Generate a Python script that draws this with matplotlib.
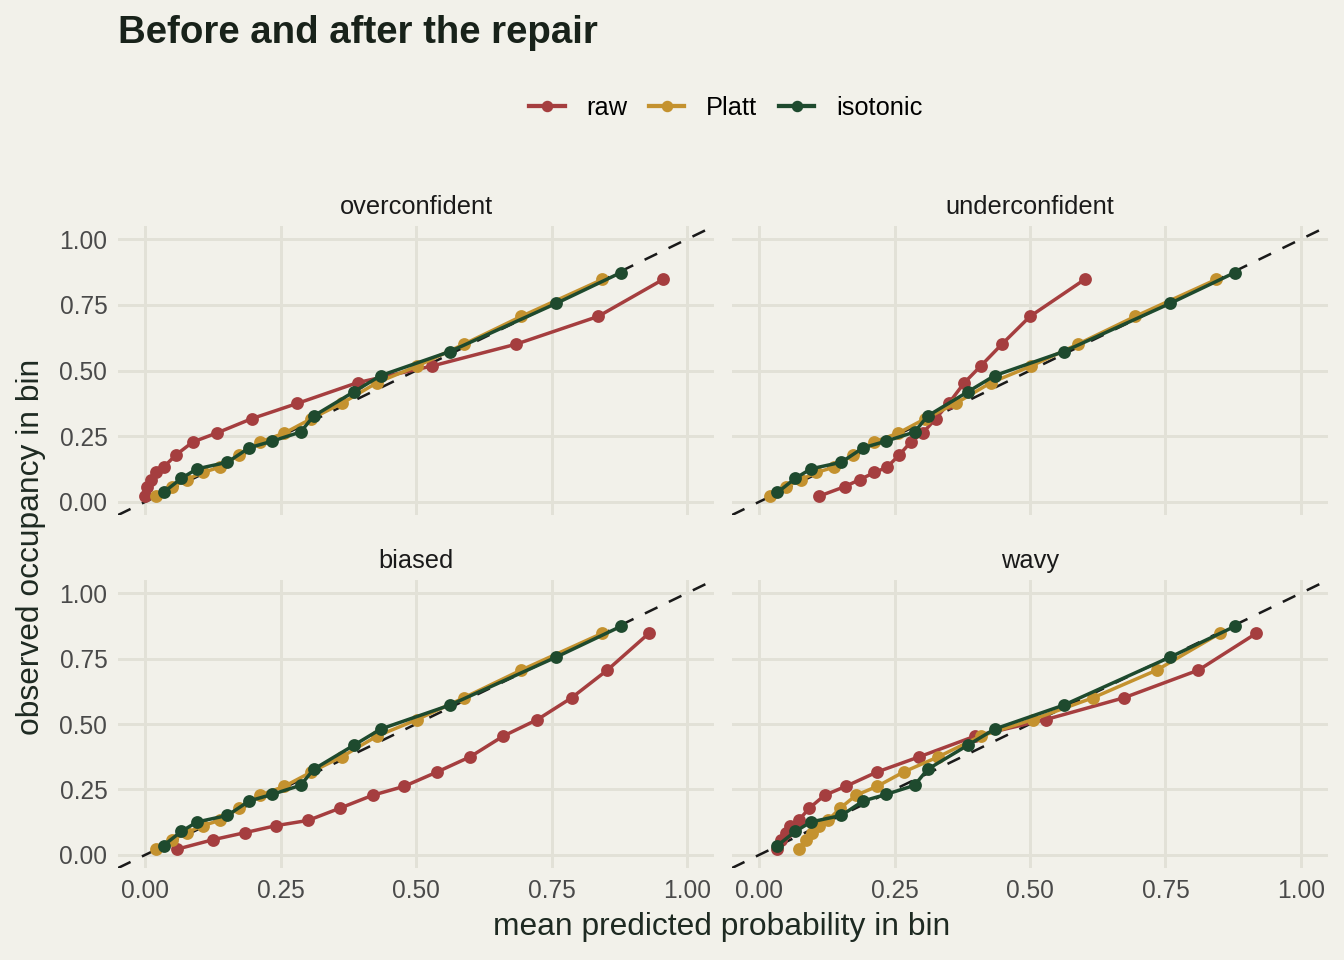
import matplotlib
matplotlib.use("Agg")
import matplotlib.pyplot as plt
from matplotlib.lines import Line2D


# observed occupancy per bin (same bins for raw and Platt)
bin_obs = [0.022, 0.058, 0.085, 0.112, 0.132, 0.179, 0.228, 0.262, 0.317,
           0.375, 0.454, 0.517, 0.600, 0.706, 0.847]

# mean predicted probability of the raw model, per scenario
raw_over = [0.000, 0.004, 0.010, 0.020, 0.034, 0.057, 0.088, 0.132, 0.197,
            0.281, 0.392, 0.529, 0.684, 0.836, 0.956]
raw_under = [0.111, 0.158, 0.186, 0.213, 0.236, 0.259, 0.280, 0.302, 0.326,
             0.350, 0.379, 0.409, 0.448, 0.500, 0.601]
raw_biased = [0.059, 0.125, 0.184, 0.242, 0.301, 0.360, 0.420, 0.478, 0.539,
              0.600, 0.661, 0.724, 0.787, 0.853, 0.930]
raw_wavy = [0.034, 0.041, 0.049, 0.058, 0.073, 0.093, 0.121, 0.160, 0.218,
            0.296, 0.399, 0.529, 0.673, 0.811, 0.918]

# Platt scaling
platt_x = [0.020, 0.050, 0.077, 0.106, 0.138, 0.174, 0.212, 0.257, 0.307,
           0.363, 0.428, 0.502, 0.588, 0.694, 0.844]
platt_wavy = [0.073, 0.087, 0.098, 0.111, 0.127, 0.150, 0.179, 0.218, 0.267,
              0.331, 0.409, 0.505, 0.616, 0.734, 0.851]

# isotonic regression (merged bins)
iso_x = [0.034, 0.067, 0.096, 0.152, 0.192, 0.234, 0.287, 0.311, 0.386,
         0.435, 0.562, 0.759, 0.878]
iso_y = [0.036, 0.090, 0.126, 0.151, 0.206, 0.231, 0.266, 0.327, 0.420,
         0.481, 0.572, 0.756, 0.873]

panels = ["overconfident", "underconfident", "biased", "wavy"]
raw_x = [raw_over, raw_under, raw_biased, raw_wavy]
platt_all = [platt_x, platt_x, platt_x, platt_wavy]
ticks = [0, 0.25, 0.5, 0.75, 1.0]
tick_labels = ["0.00", "0.25", "0.50", "0.75", "1.00"]

BG = "#F2F1EA"
GRID = "#E2E1D7"
C_RAW = "#A53E3F"
C_PLATT = "#C4922F"
C_ISO = "#1E4A2E"
LW = 1.3
MS = 3.8

plt.rcParams["font.family"] = ["Liberation Sans", "DejaVu Sans"]

fig = plt.figure(figsize=(7, 5), dpi=192, facecolor=BG)

# axes rectangles [left, bottom, width, height] in figure fractions
rects = [
  [0.0878, 0.4635, 0.4435, 0.301],
  [0.5446, 0.4635, 0.4435, 0.301],
  [0.0878, 0.0958, 0.4435, 0.300],
  [0.5446, 0.0958, 0.4435, 0.300],
]

for i, name in enumerate(panels):
  ax = fig.add_axes(rects[i])
  ax.set_facecolor(BG)
  ax.set_xlim(-0.05, 1.05)
  ax.set_ylim(-0.05, 1.05)
  for s in ax.spines.values():
    s.set_visible(False)
  ax.set_xticks(ticks)
  ax.set_yticks(ticks)
  ax.grid(True, color=GRID, linewidth=1.1)
  ax.set_axisbelow(True)
  ax.tick_params(length=0, labelsize=9.2, labelcolor="#4A4A4A", pad=4)
  if i % 2 == 0:
    ax.set_yticklabels(tick_labels)
  else:
    ax.set_yticklabels([])
  if i >= 2:
    ax.set_xticklabels(tick_labels)
  else:
    ax.set_xticklabels([])

  ax.plot([-0.05, 1.05], [-0.05, 1.05], color="#1A1A1A", linewidth=0.95,
          dashes=(5.5, 5), zorder=2)
  ax.plot(raw_x[i], bin_obs, color=C_RAW, linewidth=LW, marker="o",
          markersize=MS, zorder=3)
  ax.plot(platt_all[i], bin_obs, color=C_PLATT, linewidth=LW, marker="o",
          markersize=MS, zorder=4)
  ax.plot(iso_x, iso_y, color=C_ISO, linewidth=LW, marker="o",
          markersize=MS, zorder=5)
  ax.set_title(name, fontsize=9.5, color="#1A1A1A", pad=4.5)

fig.text(0.0878, 0.966, "Before and after the repair", fontsize=14.4,
         fontweight="bold", color="#18221A", ha="left", va="center")
fig.text(0.537, 0.034, "mean predicted probability in bin", fontsize=11.9,
         color="#1E2A22", ha="center", va="center")
fig.text(0.023, 0.43, "observed occupancy in bin", fontsize=11.9,
         color="#1E2A22", ha="center", va="center", rotation=90)

handles = [
  Line2D([], [], color=C_RAW, linewidth=1.6, marker="o", markersize=3.3),
  Line2D([], [], color=C_PLATT, linewidth=1.6, marker="o", markersize=3.3),
  Line2D([], [], color=C_ISO, linewidth=1.6, marker="o", markersize=3.3),
]
fig.legend(handles, ["raw", "Platt", "isotonic"], loc="center",
           bbox_to_anchor=(0.54, 0.888), ncol=3, frameon=False,
           fontsize=9.5, handlelength=1.4, columnspacing=0.85,
           handletextpad=0.85)

fig.savefig("out.png", dpi=192, facecolor=BG)
